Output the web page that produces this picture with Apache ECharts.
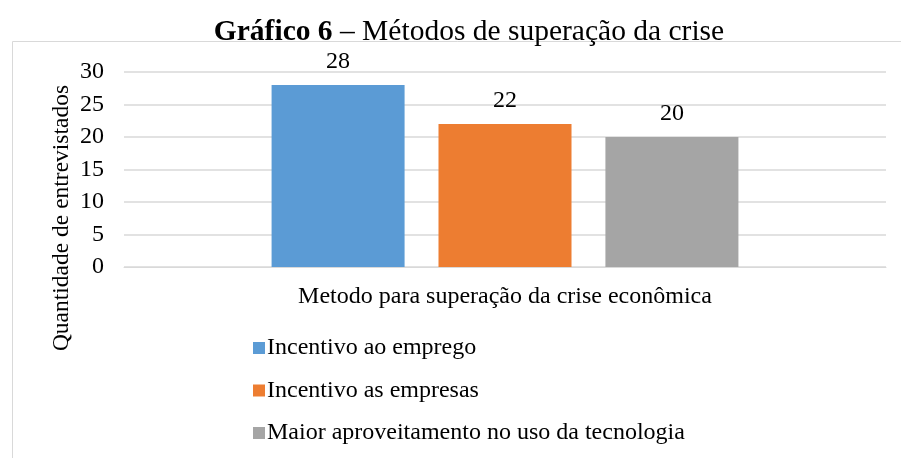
<!DOCTYPE html>
<html>
<head>
<meta charset="utf-8">
<script src="https://cdn.jsdelivr.net/npm/echarts@6/dist/echarts.min.js"></script>
<style>
  html, body { margin:0; padding:0; background:#fff; }
  #main { width:901px; height:458px; }
</style>
</head>
<body>
<div id="main"></div>
<script>
// dados do grafico
var categorias = ['Metodo para superação da crise econômica'];
var seriesNomes = ['Incentivo ao emprego', 'Incentivo as empresas', 'Maior aproveitamento no uso da tecnologia'];
var seriesValores = [[28], [22], [20]];
var cores = ['#5B9BD5', '#ED7D31', '#A5A5A5'];
var yTicks = [0, 5, 10, 15, 20, 25, 30];

var fonte = '"Liberation Serif", "Times New Roman", serif';
var chart = echarts.init(document.getElementById('main'));

var series = [];
for (var i = 0; i < seriesNomes.length; ++i) {
	series.push({
		name: seriesNomes[i],
		type: 'bar',
		data: seriesValores[i],
		barWidth: 133,
		barGap: '25.5%',
		itemStyle: { color: cores[i] },
		label: {
			show: true, position: 'top', distance: 11,
			color: '#000', fontFamily: fonte, fontSize: 24
		}
	});
}

var option = {
	animation: false,
	textStyle: { fontFamily: fonte },
	title: {
		text: '{b|Gráfico 6} – Métodos de superação da crise',
		left: 464, top: 12, textAlign: 'center',
		textStyle: {
			fontFamily: fonte, fontSize: 29.5, fontWeight: 'normal', color: '#000',
			rich: { b: { fontFamily: fonte, fontSize: 29.5, fontWeight: 'bold', color: '#000' } }
		}
	},
	graphic: [
		{ type: 'rect', shape: { x: 12.5, y: 41.5, width: 900, height: 430 },
		  style: { fill: 'none', stroke: '#D9D9D9', lineWidth: 1 }, silent: true },
		{ type: 'text', x: 62, y: 218, rotation: Math.PI / 2,
		  style: { text: 'Quantidade de entrevistados', fontFamily: fonte, fontSize: 23.5,
		           fill: '#000', align: 'center', verticalAlign: 'middle' } }
	],
	legend: {
		orient: 'vertical', left: 248, top: 331,
		itemWidth: 12, itemHeight: 12, itemGap: 18.5,
		icon: 'rect',
		textStyle: { fontFamily: fonte, fontSize: 24, color: '#000', padding: [0, 0, 0, -3] },
		data: seriesNomes
	},
	grid: { left: 124, right: 15, top: 72, height: 195 },
	xAxis: {
		type: 'category', data: categorias,
		axisLine: { lineStyle: { color: '#D9D9D9' } },
		axisTick: { show: false },
		axisLabel: { color: '#000', fontFamily: fonte, fontSize: 24, margin: 18 }
	},
	yAxis: {
		type: 'value', min: yTicks[0], max: yTicks[yTicks.length - 1], interval: 5,
		axisLine: { show: false }, axisTick: { show: false },
		splitLine: { lineStyle: { color: '#D9D9D9', width: 1.5 } },
		axisLabel: { color: '#000', fontFamily: fonte, fontSize: 24, margin: 20 }
	},
	series: series
};
chart.setOption(option);
</script>
</body>
</html>
